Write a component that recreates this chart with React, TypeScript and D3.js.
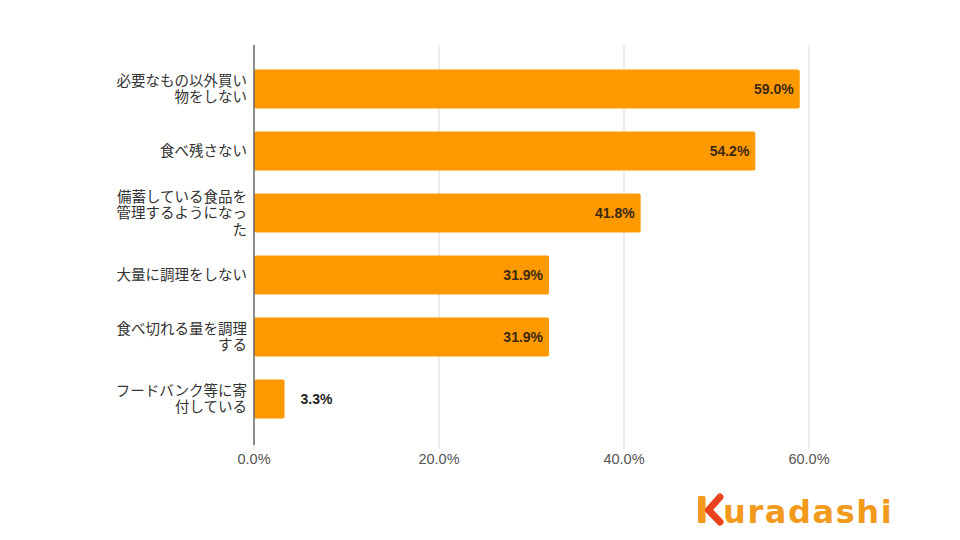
import React from "react";
import * as d3 from "d3";

const categories: string[][] = [
  ["必要なもの以外買い", "物をしない"],
  ["食べ残さない"],
  ["備蓄している食品を", "管理するようになっ", "た"],
  ["大量に調理をしない"],
  ["食べ切れる量を調理", "する"],
  ["フードバンク等に寄", "付している"],
];
const values: number[] = [59.0, 54.2, 41.8, 31.9, 31.9, 3.3];
const ticks: number[] = [0, 20, 40, 60];

const W = 960;
const H = 540;
const FONT = "'Liberation Sans', Arial, 'Noto Sans CJK JP', sans-serif";

export default function App() {
  const x = d3.scaleLinear().domain([0, 60]).range([254, 809]);
  const keys = categories.map((_, i) => String(i));
  const y = d3.scaleBand().domain(keys).range([58, 430]).paddingInner(0.37).paddingOuter(0.185);
  const bw = y.bandwidth();
  return (
    <svg width={W} height={H} style={{ position: "absolute", left: 0, top: 0, background: "#fff" }} fontFamily={FONT}>
      <rect x={0} y={0} width={W} height={H} fill="#fff" />
      {ticks.map((t) => (
        <g key={t}>
          {t > 0 && <line x1={x(t)} x2={x(t)} y1={45} y2={445} stroke="#d9d9d9" strokeWidth={1} />}
          <line x1={x(t)} x2={x(t)} y1={445} y2={449} stroke="#d9d9d9" strokeWidth={1} />
          <text x={x(t)} y={464} textAnchor="middle" fontSize={14.5} fill="#555">
            {d3.format(".1f")(t)}%
          </text>
        </g>
      ))}
      {values.map((v, i) => {
        const by = y(String(i))!;
        const inside = v > 10;
        return (
          <g key={i}>
            <rect x={x(0)} y={by} width={x(v) - x(0)} height={bw} fill="#FF9900" rx={2} />
            <text
              x={inside ? x(v) - 6 : x(v) + 16}
              y={by + bw / 2 + 5}
              textAnchor={inside ? "end" : "start"}
              fontSize={14}
              fontWeight={700}
              fill={inside ? "#3b2a0f" : "#222"}
            >
              {d3.format(".1f")(v)}%
            </text>
          </g>
        );
      })}
      <line x1={254} x2={254} y1={45} y2={445} stroke="#666" strokeWidth={1.5} />
      {categories.map((lines, i) => {
        const cy = y(String(i))! + bw / 2;
        const lh = 16.5;
        const start = cy - ((lines.length - 1) * lh) / 2 + 5;
        return (
          <text key={i} textAnchor="end" fontSize={14.5} fill="#333">
            {lines.map((l, j) => (
              <tspan key={j} x={247} y={start + j * lh}>
                {l}
              </tspan>
            ))}
          </text>
        );
      })}
      <g>
        <rect x={698} y={496} width={7.5} height={27} fill="#F39A1C" rx={1.5} />
        <path d="M720,497 L708.5,510 L720,522" fill="none" stroke="#E8431C" strokeWidth={7} strokeLinejoin="round" strokeLinecap="round" />
        <text x={723} y={523} fontSize={32} fontWeight={900} fill="#F39A1C" fontFamily="'DejaVu Sans', sans-serif" letterSpacing={1.6}>
          uradashi
        </text>
      </g>
    </svg>
  );
}
